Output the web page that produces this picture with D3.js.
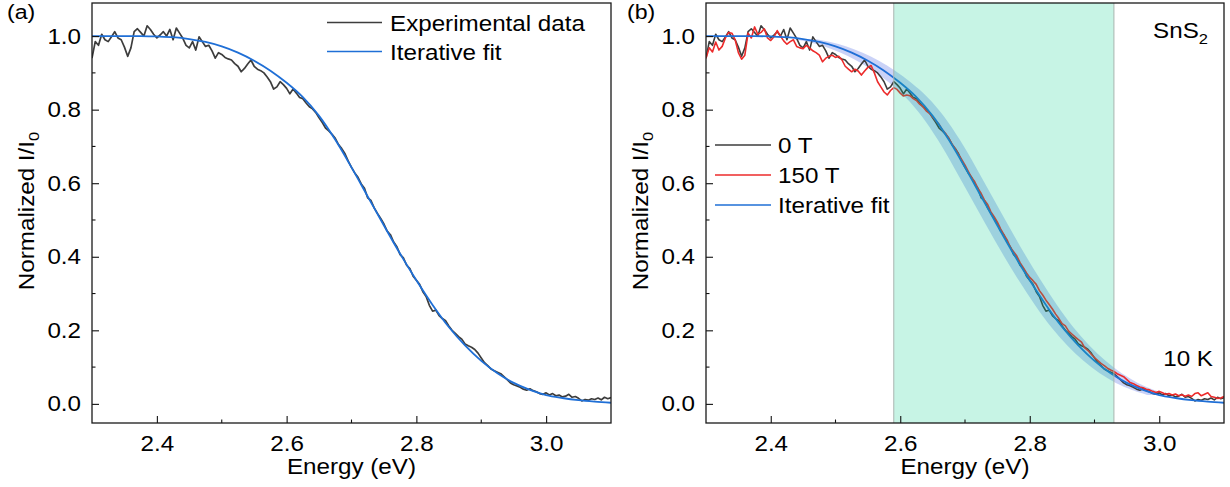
<!DOCTYPE html>
<html><head><meta charset="utf-8">
<script src="https://cdn.jsdelivr.net/npm/d3@7"></script>
<style>
body{margin:0;background:#fff;}
svg{display:block;}
text{font-family:"Liberation Sans",Arial,sans-serif;fill:#000;}
</style></head><body>
<svg id="chart" width="1230" height="487"></svg>
<script>
// ---------------- data ----------------
const energyStart = 2.30, energyStep = 0.005;   // measurement grid (eV)

// Experimental data / 0 T (normalized I/I0), one value per grid step 2.300 ... 3.100
const expValues = [
 0.940,0.985,0.975,1.005,0.990,0.985,0.998,1.012,0.995,0.990,
 0.970,0.945,0.968,1.012,1.020,1.010,1.000,1.028,1.018,1.005,
 0.995,1.003,1.012,1.000,1.018,0.990,1.022,1.008,0.994,0.975,
 0.968,0.985,0.962,0.998,0.985,0.972,0.975,0.960,0.940,0.955,
 0.950,0.942,0.938,0.935,0.925,0.918,0.903,0.912,0.924,0.935,
 0.918,0.910,0.906,0.900,0.889,0.876,0.856,0.862,0.876,0.868,
 0.858,0.843,0.856,0.845,0.833,0.830,0.818,0.808,0.802,0.792,
 0.778,0.765,0.750,0.742,0.733,0.722,0.705,0.694,0.680,0.660,
 0.643,0.628,0.616,0.598,0.586,0.560,0.553,0.533,0.518,0.504,
 0.489,0.470,0.460,0.440,0.427,0.406,0.397,0.377,0.368,0.347,
 0.336,0.325,0.305,0.292,0.268,0.252,0.255,0.240,0.232,0.226,
 0.212,0.200,0.192,0.183,0.176,0.163,0.158,0.154,0.148,0.138,
 0.125,0.112,0.104,0.095,0.090,0.086,0.082,0.074,0.066,0.057,
 0.052,0.049,0.045,0.040,0.037,0.041,0.036,0.033,0.028,0.026,
 0.030,0.024,0.028,0.022,0.024,0.019,0.021,0.026,0.018,0.020,
 0.015,0.008,0.012,0.010,0.014,0.012,0.016,0.011,0.018,0.014,
 0.017
];
const zeroTValues = expValues;

// 150 T data on the same grid
const field150Values = [
 0.940,0.968,0.957,0.984,0.962,0.972,0.995,1.010,1.008,0.990,
 0.955,0.937,0.948,1.008,0.995,1.025,1.005,1.010,1.020,0.995,
 0.988,0.998,1.015,1.000,0.987,0.978,0.985,0.990,0.972,0.968,
 0.966,0.975,0.968,0.960,0.955,0.948,0.930,0.940,0.945,0.948,
 0.942,0.945,0.935,0.918,0.910,0.903,0.910,0.905,0.894,0.905,
 0.915,0.920,0.900,0.876,0.862,0.848,0.840,0.852,0.860,0.855,
 0.845,0.837,0.840,0.838,0.830,0.825,0.815,0.808,0.797,0.790,
 0.780,0.770,0.760,0.745,0.735,0.722,0.706,0.694,0.678,0.664,
 0.649,0.632,0.616,0.604,0.586,0.572,0.554,0.542,0.522,0.509,
 0.494,0.476,0.460,0.446,0.426,0.414,0.402,0.384,0.370,0.356,
 0.344,0.335,0.325,0.308,0.296,0.282,0.270,0.258,0.244,0.232,
 0.218,0.212,0.198,0.190,0.182,0.175,0.168,0.152,0.145,0.135,
 0.126,0.118,0.110,0.104,0.097,0.092,0.088,0.082,0.078,0.074,
 0.066,0.058,0.055,0.050,0.046,0.044,0.040,0.038,0.034,0.031,
 0.034,0.030,0.026,0.028,0.024,0.027,0.022,0.025,0.021,0.024,
 0.020,0.028,0.030,0.022,0.026,0.030,0.020,0.018,0.015,0.016,
 0.020
];

// Iterative fit
const fitEnergies = [2.300,2.325,2.350,2.375,2.400,2.425,2.450,2.475,2.500,2.525,2.550,
 2.575,2.600,2.625,2.650,2.675,2.700,2.725,2.750,2.775,2.800,2.825,2.850,2.875,2.900,
 2.925,2.950,2.975,3.000,3.025,3.050,3.075,3.100];
const fitValues = [1.000,1.000,1.000,1.000,0.999,0.997,0.992,0.984,0.972,0.955,0.933,
 0.906,0.873,0.834,0.783,0.718,0.643,0.564,0.485,0.408,0.336,0.269,0.209,0.159,0.117,
 0.083,0.057,0.038,0.024,0.016,0.010,0.006,0.003];

const xDomain = [2.3, 3.1];
const yDomain = [-0.052, 1.09];
const xTicks = [2.4, 2.6, 2.8, 3.0];
const xMinorTicks = [2.5, 2.7, 2.9];
const yTicks = [0.0, 0.2, 0.4, 0.6, 0.8, 1.0];
const yMinorTicks = [0.1, 0.3, 0.5, 0.7, 0.9];
const fitWindow = [2.59, 2.93];     // shaded energy window in (b)
const bandRange = [2.45, 3.0];      // uncertainty band extent in (b)
const bandShift = 0.017;            // band half-width in energy (eV)
const legendA = ["Experimental data", "Iterative fit"];
const legendB = ["0 T", "150 T", "Iterative fit"];

// ---------------- drawing ----------------
const svg = d3.select("#chart");
const FONT = 22, SX = 1.1;
const plotTop = 3, plotBottom = 423;
const C_GRAY = "#3d3d3d", C_RED = "#ec2b2b", C_BLUE = "#1f6fd6";

const energies = expValues.map((_, i) => +(energyStart + i * energyStep).toFixed(3));
const zip = (xs, ys) => xs.map((e, i) => [e, ys[i]]);
const expPts = zip(energies, expValues);
const zeroPts = zip(energies, zeroTValues);
const redPts = zip(energies, field150Values);
const fitPts = zip(fitEnergies, fitValues);

const defs = svg.append("defs");

function addText(g, x, y, parts, anchor) {
  const t = g.append("text")
    .attr("transform", `translate(${x},${y}) scale(${SX},1)`)
    .attr("text-anchor", anchor || "start")
    .style("font-size", FONT + "px");
  parts.forEach(p => {
    const ts = t.append("tspan").text(p.t);
    if (p.sub) ts.attr("dy", p.dy || 6).style("font-size", "15px");
  });
  return t;
}

function panel(cfg) {
  const x = d3.scaleLinear().domain(xDomain).range([cfg.left, cfg.right]);
  const y = d3.scaleLinear().domain(yDomain).range([plotBottom, plotTop]);
  const g = svg.append("g");

  defs.append("clipPath").attr("id", "clip" + cfg.id)
    .append("rect").attr("x", cfg.left).attr("y", plotTop)
    .attr("width", cfg.right - cfg.left).attr("height", plotBottom - plotTop);
  const plot = g.append("g").attr("clip-path", `url(#clip${cfg.id})`);

  const line = d3.line().x(d => x(d[0])).y(d => y(d[1]));
  const fitLine = d3.line().x(d => x(d[0])).y(d => y(d[1])).curve(d3.curveCatmullRom);

  if (cfg.id === "a") {
    plot.append("path").datum(expPts).attr("d", line)
      .attr("fill", "none").attr("stroke", C_GRAY).attr("stroke-width", 1.7).attr("stroke-linejoin", "round");
    plot.append("path").datum(fitPts).attr("d", fitLine)
      .attr("fill", "none").attr("stroke", C_BLUE).attr("stroke-width", 1.8);
  } else {
    const bandPts = fitPts.filter(d => d[0] >= bandRange[0] - 1e-9 && d[0] <= bandRange[1] + 1e-9);
    const band = d3.area().y(d => y(d[1]))
      .x0(d => x(d[0] - bandShift)).x1(d => x(d[0] + bandShift))
      .curve(d3.curveCatmullRom);
    plot.append("path").datum(bandPts).attr("d", band)
      .attr("fill", "rgba(80,105,230,0.3)").attr("stroke", "none");
    plot.append("path").datum(zeroPts).attr("d", line)
      .attr("fill", "none").attr("stroke", C_GRAY).attr("stroke-width", 1.6).attr("stroke-linejoin", "round");
    plot.append("path").datum(redPts).attr("d", line)
      .attr("fill", "none").attr("stroke", C_RED).attr("stroke-width", 1.6).attr("stroke-linejoin", "round");
    plot.append("path").datum(fitPts).attr("d", fitLine)
      .attr("fill", "none").attr("stroke", C_BLUE).attr("stroke-width", 1.8);
    // shaded fit window
    plot.append("rect")
      .attr("x", x(fitWindow[0])).attr("y", plotTop)
      .attr("width", x(fitWindow[1]) - x(fitWindow[0])).attr("height", plotBottom - plotTop)
      .attr("fill", "rgba(0,204,136,0.22)");
    fitWindow.forEach(e => plot.append("line")
      .attr("x1", x(e)).attr("x2", x(e)).attr("y1", plotTop).attr("y2", plotBottom)
      .attr("stroke", "#a9b5b0").attr("stroke-width", 1));
  }

  // axes (ticks inward)
  const styleAxis = a => {
    a.select(".domain").remove();
    a.attr("font-size", null).attr("font-family", null);
    a.selectAll("line").attr("stroke", "#111").attr("stroke-width", 1.1);
    a.selectAll("text").attr("transform", `scale(${SX},1)`).style("font-size", FONT + "px").attr("fill", "#000");
  };
  g.append("g").attr("transform", `translate(0,${plotBottom})`)
    .call(d3.axisBottom(x).tickValues(xTicks).tickFormat(d3.format(".1f"))
      .tickSizeInner(-7).tickSizeOuter(0).tickPadding(12))
    .call(styleAxis);
  g.append("g").attr("transform", `translate(${cfg.left},0)`)
    .call(d3.axisLeft(y).tickValues(yTicks).tickFormat(d3.format(".1f"))
      .tickSizeInner(-7).tickSizeOuter(0).tickPadding(10))
    .call(styleAxis);
  xMinorTicks.forEach(v => g.append("line")
    .attr("x1", x(v)).attr("x2", x(v)).attr("y1", plotBottom).attr("y2", plotBottom - 3.5)
    .attr("stroke", "#111").attr("stroke-width", 1.1));
  yMinorTicks.forEach(v => g.append("line")
    .attr("x1", cfg.left).attr("x2", cfg.left + 3.5).attr("y1", y(v)).attr("y2", y(v))
    .attr("stroke", "#111").attr("stroke-width", 1.1));

  // frame
  g.append("rect").attr("x", cfg.left).attr("y", plotTop)
    .attr("width", cfg.right - cfg.left).attr("height", plotBottom - plotTop)
    .attr("fill", "none").attr("stroke", "#1a1a1a").attr("stroke-width", 1.3);

  // axis titles
  addText(g, (cfg.left + cfg.right) / 2, 474, [{t: "Energy (eV)"}], "middle");
  g.append("text")
    .attr("transform", `translate(${cfg.left - 58},211) rotate(-90) scale(${SX},1)`)
    .attr("text-anchor", "middle").style("font-size", FONT + "px")
    .call(t => {
      t.append("tspan").text("Normalized I/I");
      t.append("tspan").text("0").attr("dy", 5).style("font-size", "15px");
    });

  // panel letter
  const lt = addText(g, cfg.letterX, 19, [{t: cfg.letter}]);
  lt.style("font-size", "21px");

  // legend
  const lg = cfg.legend;
  lg.items.forEach((name, i) => {
    const ly = lg.y0 + i * lg.dy;
    g.append("line").attr("x1", lg.x1).attr("x2", lg.x2).attr("y1", ly).attr("y2", ly)
      .attr("stroke", lg.colors[i]).attr("stroke-width", 1.6);
    addText(g, lg.tx, ly + 8, [{t: name}]);
  });
  return {x, y, g};
}

panel({id: "a", left: 92, right: 611, letter: "(a)", letterX: 7,
  legend: {items: legendA, colors: [C_GRAY, C_BLUE], x1: 327, x2: 382, tx: 390, y0: 22.5, dy: 29}});
const pb = panel({id: "b", left: 706, right: 1224, letter: "(b)", letterX: 627,
  legend: {items: legendB, colors: [C_GRAY, C_RED, C_BLUE], x1: 715, x2: 771, tx: 778, y0: 145, dy: 30}});

addText(pb.g, 1208, 38, [{t: "SnS"}, {t: "2", sub: true, dy: 6}], "end");
addText(pb.g, 1213, 366, [{t: "10 K"}], "end");
</script>
</body></html>
